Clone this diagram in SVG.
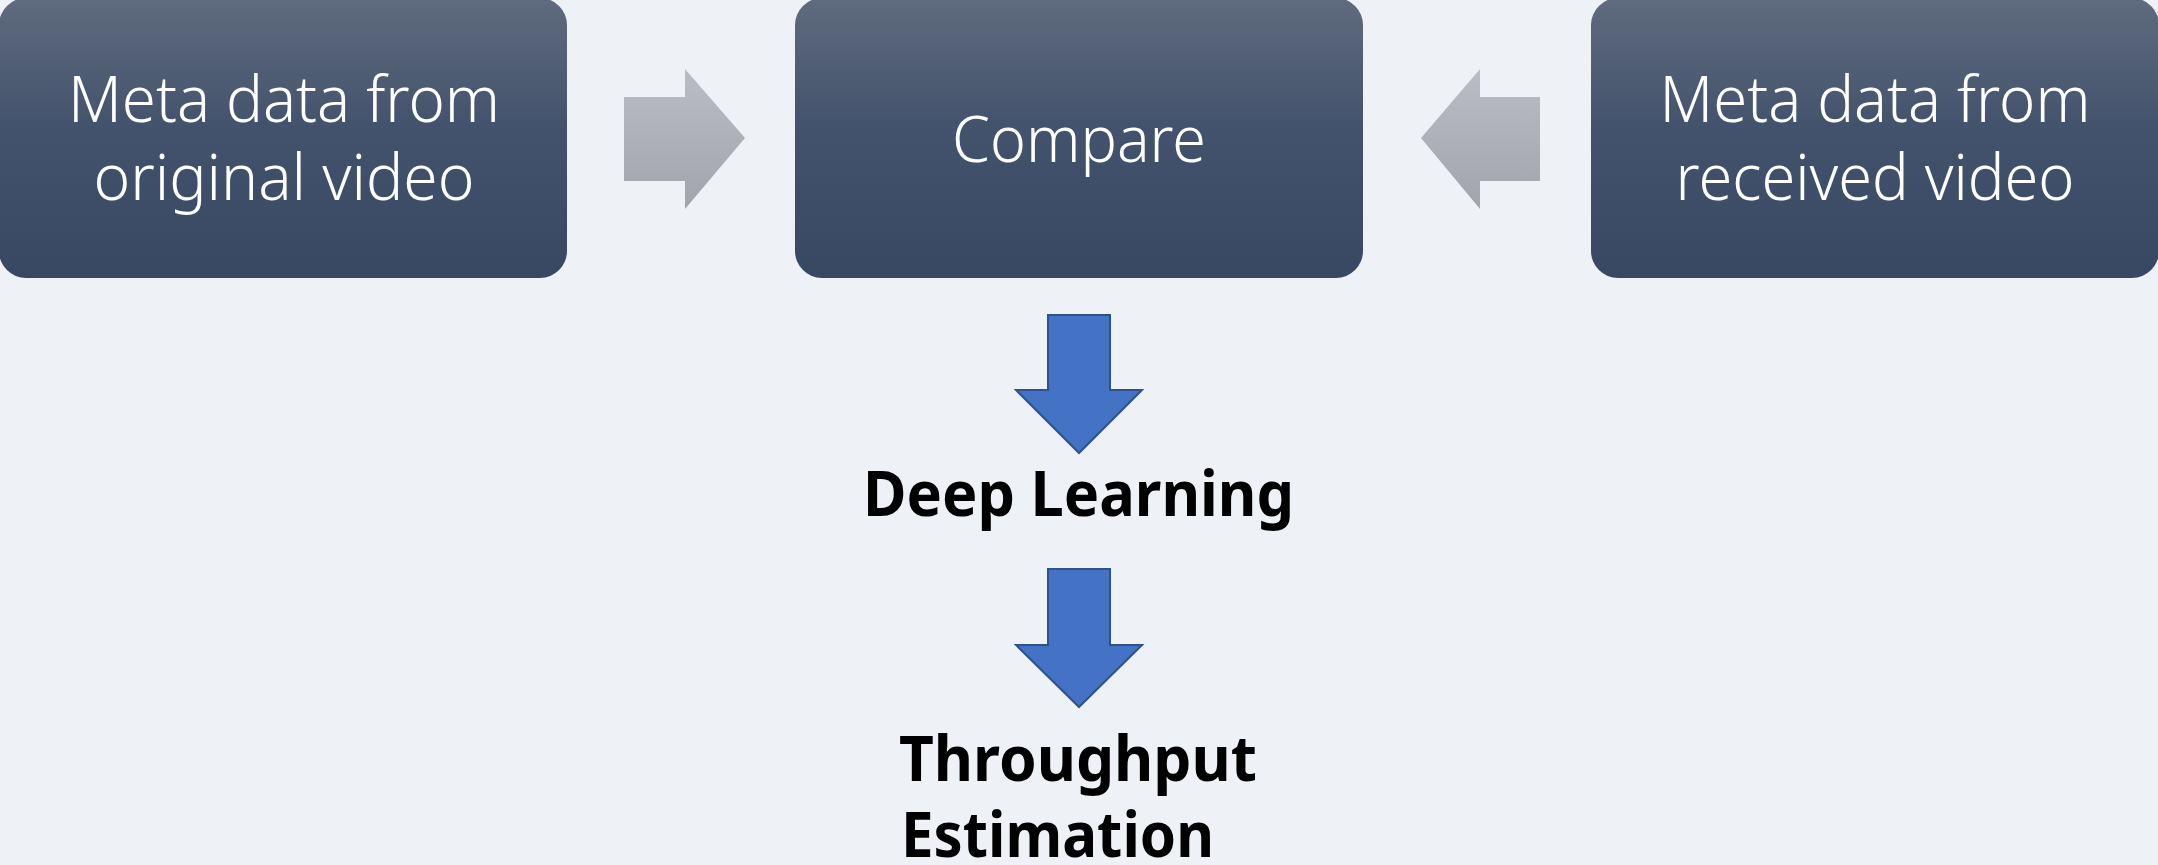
<svg xmlns="http://www.w3.org/2000/svg" width="2158" height="865" viewBox="0 0 2158 865">
  <defs>
    <linearGradient id="boxGrad" x1="0" y1="0" x2="0" y2="1">
      <stop offset="0" stop-color="#5F6B7E"/>
      <stop offset="0.45" stop-color="#44536D"/>
      <stop offset="1" stop-color="#394862"/>
    </linearGradient>
    <linearGradient id="greyGrad" x1="0" y1="0" x2="0" y2="1">
      <stop offset="0" stop-color="#BABDC4"/>
      <stop offset="1" stop-color="#A1A4AA"/>
    </linearGradient>
    <style>
      .box { fill: url(#boxGrad); }
      .boxText { fill: #FFFFFF; font-family: "Noto Sans", "Open Sans", "Liberation Sans", sans-serif; font-weight: 300; font-size: 64px; text-anchor: middle; }
      .greyArrow { fill: url(#greyGrad); }
      .blueArrow { fill: #4472C4; stroke: #2F528F; stroke-width: 2; stroke-linejoin: miter; }
      .label { fill: #000000; font-family: "Noto Sans", "Open Sans", "Liberation Sans", sans-serif; font-weight: 700; font-size: 62px; }
    </style>
  </defs>
  <rect x="0" y="0" width="2158" height="865" fill="#EEF1F6"/>

  <g id="node-original">
    <rect class="box" x="-1" y="-2" width="568" height="280" rx="27" ry="27"/>
    <text class="boxText" x="284" y="122" textLength="432" lengthAdjust="spacingAndGlyphs">Meta data from</text>
    <text class="boxText" x="284" y="200" textLength="381" lengthAdjust="spacingAndGlyphs">original video</text>
  </g>

  <g id="node-compare">
    <rect class="box" x="795" y="-2" width="568" height="280" rx="27" ry="27"/>
    <text class="boxText" x="1079" y="162" textLength="254" lengthAdjust="spacingAndGlyphs">Compare</text>
  </g>

  <g id="node-received">
    <rect class="box" x="1591" y="-2" width="568" height="280" rx="27" ry="27"/>
    <text class="boxText" x="1875" y="122" textLength="431" lengthAdjust="spacingAndGlyphs">Meta data from</text>
    <text class="boxText" x="1875" y="200" textLength="399" lengthAdjust="spacingAndGlyphs">received video</text>
  </g>

  <g id="node-deep-learning">
    <text class="label" x="1078.5" y="516" text-anchor="middle" textLength="431" lengthAdjust="spacingAndGlyphs">Deep Learning</text>
  </g>

  <g id="node-throughput">
    <text class="label" x="899" y="781" textLength="358" lengthAdjust="spacingAndGlyphs">Throughput</text>
    <text class="label" x="901" y="857" textLength="313" lengthAdjust="spacingAndGlyphs">Estimation</text>
  </g>

  <g id="connectors">
    <polygon class="greyArrow" points="624,97 685,97 685,69 745,138 685,209 685,181 624,181"/>
    <polygon class="greyArrow" points="1540,97 1480,97 1480,69 1421,138 1480,209 1480,181 1540,181"/>
    <polygon class="blueArrow" points="1048,315 1110,315 1110,390 1142,390 1079,453 1016,390 1048,390"/>
    <polygon class="blueArrow" points="1048,569 1110,569 1110,645 1142,645 1079,707 1016,645 1048,645"/>
  </g>
</svg>
